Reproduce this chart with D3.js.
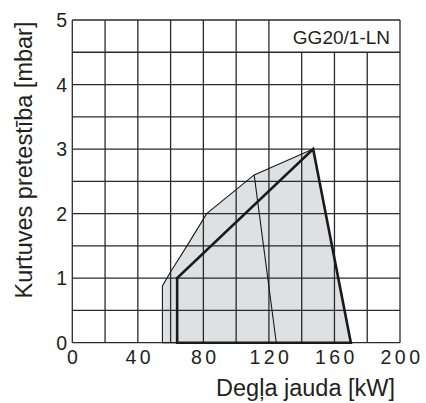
<!DOCTYPE html>
<html>
<head>
<meta charset="utf-8">
<script src="https://cdn.jsdelivr.net/npm/d3@7"></script>
<style>
  html, body { margin: 0; padding: 0; background: #fff; }
  svg text { font-family: "Liberation Sans", Arial, Helvetica, sans-serif; fill: #231f20; }
</style>
</head>
<body>
<svg id="chart" width="426" height="403"></svg>
<script>
// ---- data ----
const xTicks = [0, 40, 80, 120, 160, 200];
const yTicks = [0, 1, 2, 3, 4, 5];
const xGrid = [0, 20, 40, 60, 80, 100, 120, 140, 160, 180, 200];
const yGrid = [0, 0.5, 1, 1.5, 2, 2.5, 3, 3.5, 4, 4.5, 5];
// outer working envelope (thin outline, grey fill)
const envelopeKW   = [55, 55, 60, 70, 82, 111, 147, 170];
const envelopeMbar = [0, 0.88, 1.1, 1.5, 2.0, 2.6, 3.0, 0];
// thick outline (rated field)
const ratedKW   = [64, 64, 147, 170, 64];
const ratedMbar = [0, 1.0, 3.0, 0, 0];
// thin inner line
const splitKW   = [111, 124.5];
const splitMbar = [2.6, 0];
const modelLabel = "GG20/1-LN";
const xTitle = "Degļa jauda [kW]";
const yTitle = "Kurtuves pretestība [mbar]";

// ---- layout ----
const svg = d3.select("#chart");
const mLeft = 72.3, mTop = 20, mRight = 400, mBottom = 342.7;
const x = d3.scaleLinear().domain([0, 200]).range([mLeft, mRight]);
const y = d3.scaleLinear().domain([0, 5]).range([mBottom, mTop]);
const gridColor = "#2a2a2a";

const line = d3.line().x(d => x(d[0])).y(d => y(d[1]));
const zip = (a, b) => a.map((v, i) => [v, b[i]]);

// fill
svg.append("path")
  .attr("d", line(zip(envelopeKW, envelopeMbar)) + "Z")
  .attr("fill", "#dfe0e2")
  .attr("stroke", "none");

// grid
const g = svg.append("g");
yGrid.forEach(v => {
  g.append("line").attr("x1", x(0)).attr("x2", x(200))
    .attr("y1", y(v)).attr("y2", y(v))
    .attr("stroke", gridColor).attr("stroke-width", 1.3);
});
xGrid.forEach(v => {
  // leave the label box free in the top-right cell row
  const yTop = (v > 120 && v < 200) ? 4.5 : 5;
  g.append("line").attr("x1", x(v)).attr("x2", x(v))
    .attr("y1", y(0)).attr("y2", y(yTop))
    .attr("stroke", gridColor).attr("stroke-width", 1.3);
});

// thin outline of envelope
svg.append("path")
  .attr("d", line(zip(envelopeKW, envelopeMbar)) + "Z")
  .attr("fill", "none").attr("stroke", "#1a1a1a").attr("stroke-width", 1.1)
  .attr("stroke-linejoin", "miter");

// thin split line
svg.append("path")
  .attr("d", line(zip(splitKW, splitMbar)))
  .attr("fill", "none").attr("stroke", "#1a1a1a").attr("stroke-width", 1.1);

// thick outline
svg.append("path")
  .attr("d", line(zip(ratedKW, ratedMbar)) + "Z")
  .attr("fill", "none").attr("stroke", "#1a1a1a").attr("stroke-width", 2.6)
  .attr("stroke-linejoin", "miter");

// axes labels
svg.append("g").selectAll("text").data(yTicks).join("text")
  .attr("x", 67).attr("y", d => y(d))
  .attr("dy", "0.36em")
  .attr("text-anchor", "end")
  .style("font-size", "19.5px")
  .text(d => d);

svg.append("g").selectAll("text").data(xTicks).join("text")
  .attr("x", d => x(d) + 2).attr("y", 364)
  .attr("text-anchor", "middle")
  .style("font-size", "19.5px")
  .style("letter-spacing", "3.5px")
  .text(d => d);

svg.append("text")
  .attr("x", 390).attr("y", 43.5)
  .attr("text-anchor", "end")
  .style("font-size", "19px")
  .text(modelLabel);

svg.append("text")
  .attr("x", 395).attr("y", 396)
  .attr("text-anchor", "end")
  .style("font-size", "23.5px")
  .text(xTitle);

svg.append("text")
  .attr("transform", "translate(32,160) rotate(-90)")
  .attr("text-anchor", "middle")
  .style("font-size", "23.5px")
  .text(yTitle);
</script>
</body>
</html>
